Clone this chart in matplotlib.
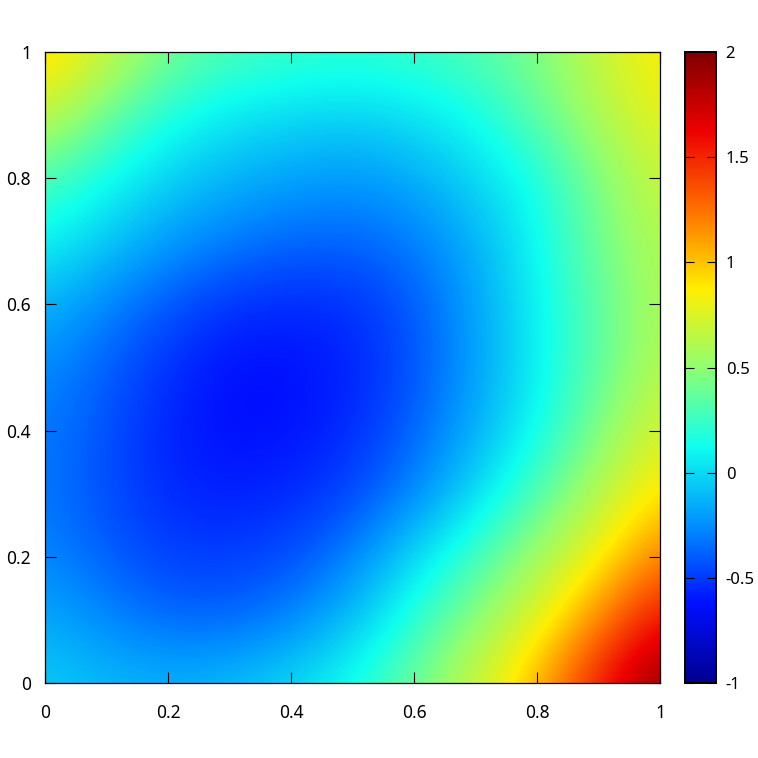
import matplotlib

matplotlib.use("Agg")
import matplotlib.pyplot as plt
import numpy as np
from matplotlib.colors import LinearSegmentedColormap

plt.rcParams["font.family"] = ["Noto Sans", "DejaVu Sans"]

# sample positions of the surface (on a 0.1 grid)
x_vals = [0.0, 0.1, 0.2, 0.3, 0.4, 0.5, 0.6, 0.7, 0.8, 0.9, 1.0]
y_vals = [0.0, 0.1, 0.2, 0.3, 0.4, 0.5, 0.6, 0.7, 0.8, 0.9, 1.0]

# one row per y value, bottom (y=0) to top (y=1)
z_rows = [
    [-0.05, -0.10, -0.13, -0.09, 0.00, 0.15, 0.40, 0.70, 1.05, 1.55, 1.96],
    [-0.15, -0.27, -0.36, -0.37, -0.28, -0.09, 0.21, 0.49, 0.77, 1.18, 1.60],
    [-0.27, -0.39, -0.48, -0.49, -0.44, -0.29, 0.00, 0.27, 0.56, 0.84, 1.22],
    [-0.32, -0.44, -0.55, -0.58, -0.55, -0.46, -0.28, 0.00, 0.31, 0.62, 0.92],
    [-0.31, -0.43, -0.57, -0.63, -0.62, -0.54, -0.38, -0.15, 0.125, 0.45, 0.75],
    [-0.26, -0.39, -0.53, -0.63, -0.63, -0.57, -0.43, -0.20, 0.08, 0.35, 0.63],
    [-0.12, -0.28, -0.42, -0.52, -0.55, -0.53, -0.41, -0.19, 0.09, 0.35, 0.60],
    [0.10, -0.06, -0.21, -0.31, -0.37, -0.38, -0.31, -0.14, 0.11, 0.40, 0.63],
    [0.30, 0.13, -0.03, -0.13, -0.19, -0.22, -0.16, -0.01, 0.15, 0.45, 0.70],
    [0.68, 0.38, 0.17, 0.05, 0.00, -0.02, 0.03, 0.13, 0.35, 0.60, 0.80],
    [0.97, 0.70, 0.42, 0.30, 0.25, 0.22, 0.25, 0.32, 0.45, 0.68, 0.88],
]

cbar_ticks = [-1, -0.5, 0, 0.5, 1, 1.5, 2]
cbar_labels = ["-1", "-0.5", "0", "0.5", "1", "1.5", "2"]
axis_ticks = [0, 0.2, 0.4, 0.6, 0.8, 1]
axis_labels = ["0", "0.2", "0.4", "0.6", "0.8", "1"]

palette = ["#000090", "#000fff", "#0090ff", "#0fffee", "#90ff70",
           "#ffee00", "#ff7000", "#ee0000", "#7f0000"]
cmap = LinearSegmentedColormap.from_list("gp_jet", palette, N=512)

z = np.array(z_rows)
dx = (x_vals[1] - x_vals[0]) / 2
dy = (y_vals[1] - y_vals[0]) / 2

fig = plt.figure(figsize=(7.58, 7.58), dpi=100)
ax = fig.add_axes([45 / 758, 1 - 683 / 758, 615 / 758, 631 / 758])
im = ax.imshow(z, origin="lower", cmap=cmap, vmin=-1, vmax=2,
               interpolation="bicubic", aspect="auto",
               extent=(x_vals[0] - dx, x_vals[-1] + dx, y_vals[0] - dy, y_vals[-1] + dy))
ax.set_xlim(0, 1)
ax.set_ylim(0, 1)
ax.set_xticks(axis_ticks, axis_labels)
ax.set_yticks(axis_ticks, axis_labels)
ax.tick_params(direction="in", length=8, width=0.8, top=True, right=True,
               labelsize=12.5, colors="black")
ax.tick_params(axis="x", pad=15)
ax.tick_params(axis="y", pad=10)
for s in ax.spines.values():
    s.set_linewidth(0.9)

cax = fig.add_axes([685 / 758, 1 - 683 / 758, 31 / 758, 631 / 758])
cb = fig.colorbar(im, cax=cax)
cb.set_ticks(cbar_ticks, labels=cbar_labels)
cb.outline.set_linewidth(1.4)
cax.tick_params(direction="in", length=6.5, width=0.8, left=True, right=True,
                labelsize=12, pad=7)

fig.savefig("out.png", dpi=100)
